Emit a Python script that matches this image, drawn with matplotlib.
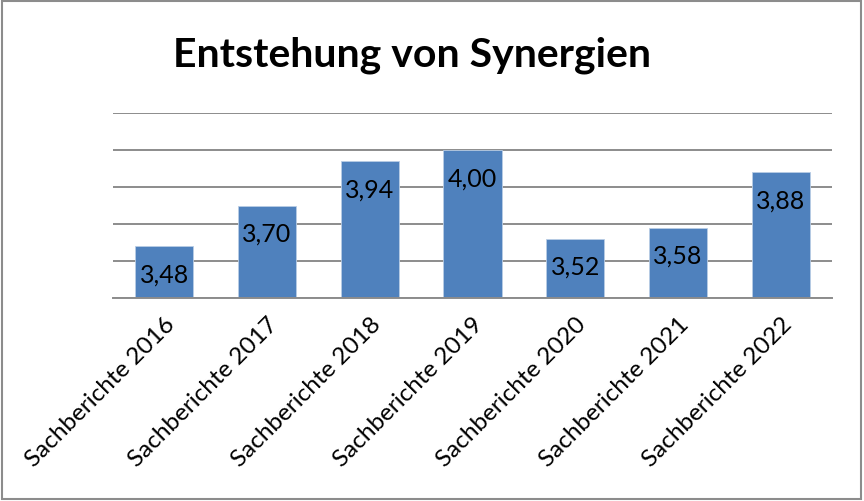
import matplotlib
matplotlib.use("Agg")
import matplotlib.pyplot as plt
from matplotlib.patches import Rectangle

categories = ["Sachberichte 2016", "Sachberichte 2017", "Sachberichte 2018",
              "Sachberichte 2019", "Sachberichte 2020", "Sachberichte 2021",
              "Sachberichte 2022"]
values = [3.48, 3.70, 3.94, 4.00, 3.52, 3.58, 3.88]
value_labels = ["3,48", "3,70", "3,94", "4,00", "3,52", "3,58", "3,88"]
title = "Entstehung von Synergien"

plt.rcParams['font.family'] = ['Lato', 'DejaVu Sans']

fig = plt.figure(figsize=(8.64, 5.02), dpi=100)
ax = fig.add_axes([113/864, 1-299/502, (832-113)/864, (299-114)/502])

x = list(range(len(categories)))
ax.bar(x, [v - 3.2 for v in values], bottom=3.2, width=0.565, color='#4F81BD',
       edgecolor='#B9CDE5', linewidth=0.6, zorder=3)
ax.set_xlim(-0.5, len(categories) - 0.5)
ax.set_ylim(3.2, 4.2)
ax.set_yticks([3.2, 3.4, 3.6, 3.8, 4.0, 4.2])
ax.yaxis.grid(True, color='#8C8C8C', linewidth=1.4, zorder=0)
ax.tick_params(axis='y', left=False, labelleft=False)
ax.tick_params(axis='x', bottom=False, pad=7)
for s in ['left', 'right', 'top']:
    ax.spines[s].set_visible(False)
ax.spines['bottom'].set_color('#8C8C8C')
ax.spines['bottom'].set_linewidth(1.4)
ax.spines['bottom'].set_zorder(4)

ax.set_xticks(x)
ax.set_xticklabels(categories, rotation=45, ha='right', rotation_mode='anchor',
                   fontsize=17.5, color='black')

for xi, v, lab in zip(x, values, value_labels):
    ax.annotate(lab, (xi, v), xytext=(0, -20), textcoords='offset points',
                ha='center', va='center', fontsize=18, color='black', zorder=5)

fig.text(412/864, 1 - 55/502, title, ha='center', va='center', fontsize=29.5,
         fontweight='bold', color='black')

fig.patches.append(Rectangle((0.002, 0.003), 0.994, 0.994, transform=fig.transFigure,
                             fill=False, edgecolor='#8C8C8C', linewidth=1.5))

fig.savefig("out.png", dpi=100, facecolor='white')
